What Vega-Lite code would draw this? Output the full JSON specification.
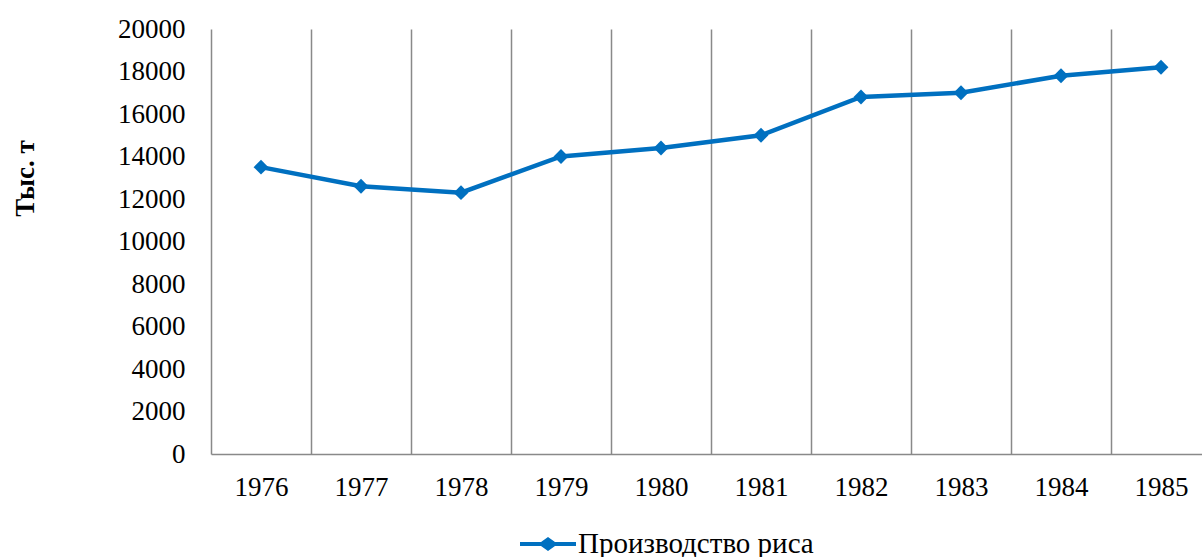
{
  "$schema": "https://vega.github.io/schema/vega-lite/v6.json",
  "autosize": {"type": "none"},
  "padding": {"left": 211, "top": 29, "right": 0, "bottom": 103},
  "width": 1000,
  "height": 425,
  "background": "white",
  "data": {"values": [
    {"year": "1976", "value": 13500, "series": "Производство риса"},
    {"year": "1977", "value": 12600, "series": "Производство риса"},
    {"year": "1978", "value": 12300, "series": "Производство риса"},
    {"year": "1979", "value": 14000, "series": "Производство риса"},
    {"year": "1980", "value": 14400, "series": "Производство риса"},
    {"year": "1981", "value": 15000, "series": "Производство риса"},
    {"year": "1982", "value": 16800, "series": "Производство риса"},
    {"year": "1983", "value": 17000, "series": "Производство риса"},
    {"year": "1984", "value": 17800, "series": "Производство риса"},
    {"year": "1985", "value": 18200, "series": "Производство риса"}
  ]},
  "config": {
    "view": {"stroke": null},
    "font": "Liberation Serif"
  },
  "encoding": {
    "x": {
      "field": "year", "type": "ordinal",
      "scale": {"paddingInner": 0, "paddingOuter": 0},
      "axis": {
        "title": null, "labelAngle": 0, "labelFont": "Liberation Serif", "labelFontSize": 27,
        "labelColor": "#000000", "labelPadding": 20, "ticks": false,
        "domain": true, "domainColor": "#898989", "domainWidth": 1.5,
        "grid": true, "gridColor": "#898989", "gridWidth": 1.5, "tickBand": "extent"
      }
    },
    "y": {
      "field": "value", "type": "quantitative",
      "scale": {"domain": [0, 20000], "nice": false},
      "axis": {
        "title": "Тыс. т", "titleFont": "Liberation Serif", "titleFontSize": 27, "titleFontWeight": "bold",
        "titleColor": "#000000", "titleX": -186, "titleY": 149, "titleAngle": -90, "titleBaseline": "middle", "titleAlign": "center",
        "values": [0, 2000, 4000, 6000, 8000, 10000, 12000, 14000, 16000, 18000, 20000],
        "format": "d",
        "labelFont": "Liberation Serif", "labelFontSize": 27, "labelColor": "#000000", "labelPadding": 26,
        "ticks": false, "domain": false, "grid": false
      }
    },
    "color": {
      "field": "series", "type": "nominal",
      "scale": {"range": ["#0070C0"]},
      "legend": {
        "title": null, "orient": "none", "legendX": 309, "legendY": 487, "padding": 0,
        "labelFont": "Liberation Serif", "labelFontSize": 29, "labelColor": "#000000", "labelOffset": 2, "labelLimit": 600,
        "symbolType": "M-1,-0.07 L-0.25,-0.07 L0,-0.25 L0.25,-0.07 L1,-0.07 L1,0.07 L0.25,0.07 L0,0.25 L-0.25,0.07 L-1,0.07 Z",
        "symbolSize": 3136, "symbolStrokeWidth": 0, "symbolFillColor": "#0070C0", "symbolOpacity": 1
      }
    }
  },
  "layer": [
    {"mark": {"type": "line", "strokeWidth": 4.5}},
    {"mark": {"type": "point", "shape": "diamond", "filled": true, "size": 220, "opacity": 1}}
  ]
}
